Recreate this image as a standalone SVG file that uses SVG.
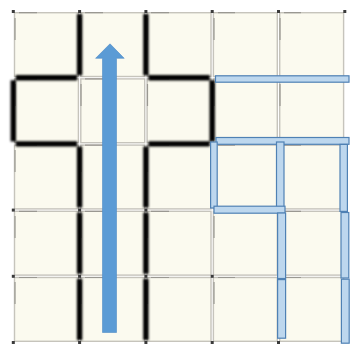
<svg xmlns="http://www.w3.org/2000/svg" width="350" height="347" viewBox="0 0 350 347">
<defs>
<filter id="blur" x="-50%" y="-50%" width="200%" height="200%"><feGaussianBlur stdDeviation="1.1"/></filter>
<filter id="dotblur" x="-100%" y="-100%" width="300%" height="300%"><feGaussianBlur stdDeviation="0.6"/></filter>
</defs>
<style>
.tile{fill:#fbfaef;stroke:#c6c4bc;stroke-width:1.4}
.dash{stroke:#9a9892;stroke-width:1.2;fill:none}
.dot{fill:#3a3a3a;filter:url(#dotblur)}
.wall{stroke:#000;stroke-width:5.4;fill:none;filter:url(#blur)}
.bar{fill:#bdd7ee;stroke:#4f81b4;stroke-width:1.2}
.arrow{fill:#5b9bd5;stroke:#4f8cc6;stroke-width:0.6}
</style>
<rect width="350" height="347" fill="#ffffff"/>
<g id="tiles">
<g id="tile-r0">
<rect class="tile" x="14.5" y="12.7" width="63.9" height="63.8"/><rect class="tile" x="80.8" y="12.7" width="63.9" height="63.8"/><rect class="tile" x="147.1" y="12.7" width="63.9" height="63.8"/><rect class="tile" x="213.4" y="12.7" width="63.9" height="63.8"/><rect class="tile" x="279.7" y="12.7" width="63.9" height="63.8"/>
</g>
<g id="tile-r1">
<rect class="tile" x="14.5" y="78.9" width="63.9" height="63.8"/><rect class="tile" x="80.8" y="78.9" width="63.9" height="63.8"/><rect class="tile" x="147.1" y="78.9" width="63.9" height="63.8"/><rect class="tile" x="213.4" y="78.9" width="63.9" height="63.8"/><rect class="tile" x="279.7" y="78.9" width="63.9" height="63.8"/>
</g>
<g id="tile-r2">
<rect class="tile" x="14.5" y="145.1" width="63.9" height="63.8"/><rect class="tile" x="80.8" y="145.1" width="63.9" height="63.8"/><rect class="tile" x="147.1" y="145.1" width="63.9" height="63.8"/><rect class="tile" x="213.4" y="145.1" width="63.9" height="63.8"/><rect class="tile" x="279.7" y="145.1" width="63.9" height="63.8"/>
</g>
<g id="tile-r3">
<rect class="tile" x="14.5" y="211.3" width="63.9" height="63.8"/><rect class="tile" x="80.8" y="211.3" width="63.9" height="63.8"/><rect class="tile" x="147.1" y="211.3" width="63.9" height="63.8"/><rect class="tile" x="213.4" y="211.3" width="63.9" height="63.8"/><rect class="tile" x="279.7" y="211.3" width="63.9" height="63.8"/>
</g>
<g id="tile-r4">
<rect class="tile" x="14.5" y="277.5" width="63.9" height="63.8"/><rect class="tile" x="80.8" y="277.5" width="63.9" height="63.8"/><rect class="tile" x="147.1" y="277.5" width="63.9" height="63.8"/><rect class="tile" x="213.4" y="277.5" width="63.9" height="63.8"/><rect class="tile" x="279.7" y="277.5" width="63.9" height="63.8"/>
</g>
<path class="dash" d="M19 12.7h18M85 12.7h18M151 12.7h18M218 12.7h17M284 12.7h17
M19 78.9h18M85 78.9h18M151 78.9h18M218 78.9h17M284 78.9h17
M19 145.1h18M85 145.1h18M151 145.1h18M218 145.1h17M284 145.1h17
M19 211.3h18M85 211.3h18M151 211.3h18M218 211.3h17M284 211.3h17
M19 277.5h18M85 277.5h18M151 277.5h18M218 277.5h17M284 277.5h17
M15 18v22M81 18v22M147.5 18v22M214 18v22M280 18v22
M15 84v22M81 84v22M147.5 84v22M214 84v22M280 84v22
M15 150v22M81 150v22M147.5 150v22M214 150v22M280 150v22
M15 216v22M81 216v22M147.5 216v22M214 216v22M280 216v22
M15 282v22M81 282v22M147.5 282v22M214 282v22M280 282v22"/>
<g id="dots">
<rect class="dot" x="11.8" y="10" width="3" height="3"/><rect class="dot" x="78.1" y="10" width="3" height="3"/><rect class="dot" x="144.4" y="10" width="3" height="3"/><rect class="dot" x="210.7" y="10" width="3" height="3"/><rect class="dot" x="277" y="10" width="3" height="3"/><rect class="dot" x="343.3" y="10" width="3" height="3"/>
<rect class="dot" x="11.8" y="208.6" width="3" height="3"/><rect class="dot" x="78.1" y="208.6" width="3" height="3"/><rect class="dot" x="144.4" y="208.6" width="3" height="3"/>
<rect class="dot" x="11.8" y="274.8" width="3" height="3"/><rect class="dot" x="78.1" y="274.8" width="3" height="3"/><rect class="dot" x="144.4" y="274.8" width="3" height="3"/><rect class="dot" x="210.7" y="274.8" width="3" height="3"/>
<rect class="dot" x="11.8" y="341" width="3" height="3"/><rect class="dot" x="78.1" y="341" width="3" height="3"/><rect class="dot" x="144.4" y="341" width="3" height="3"/><rect class="dot" x="210.7" y="341" width="3" height="3"/><rect class="dot" x="277" y="341" width="3" height="3"/>
</g>
</g>
<g id="connectors">
<g id="walls">
<path class="wall" d="M79.6 14V75.2M145.9 14V75.2
M79.6 146.4V207.6M79.6 212.6V273.8M79.6 278.8V340
M145.9 146.4V207.6M145.9 212.6V273.8M145.9 278.8V340
M13.3 80.2V141.4M212.2 80.2V141.4
M15.8 77.7H77.1M148.4 77.7H209.7
M15.8 143.9H77.1M148.4 143.9H209.7"/>
</g>
<g id="bars">
<rect class="bar" x="215.5" y="75.8" width="133.5" height="6.4"/>
<rect class="bar" x="216" y="137.5" width="133" height="6.8"/>
<rect class="bar" x="210.6" y="142" width="6.6" height="66"/>
<rect class="bar" x="276.5" y="142" width="7.5" height="66"/>
<rect class="bar" x="214" y="206.2" width="71" height="7"/>
<rect class="bar" x="277.6" y="213" width="8" height="65.5"/>
<rect class="bar" x="277.6" y="279.6" width="8" height="58.6"/>
<rect class="bar" x="340" y="144.4" width="7.4" height="67"/>
<rect class="bar" x="341" y="212.5" width="7.8" height="65.5"/>
<rect class="bar" x="341.4" y="279.2" width="7.8" height="64"/>
</g>
<g id="arrow">
<polygon class="arrow" points="102.5,332.5 102.5,58.3 95.6,58.3 110,43.8 124.2,58.3 116.5,58.3 116.5,332.5"/>
</g>
</g>
</svg>
